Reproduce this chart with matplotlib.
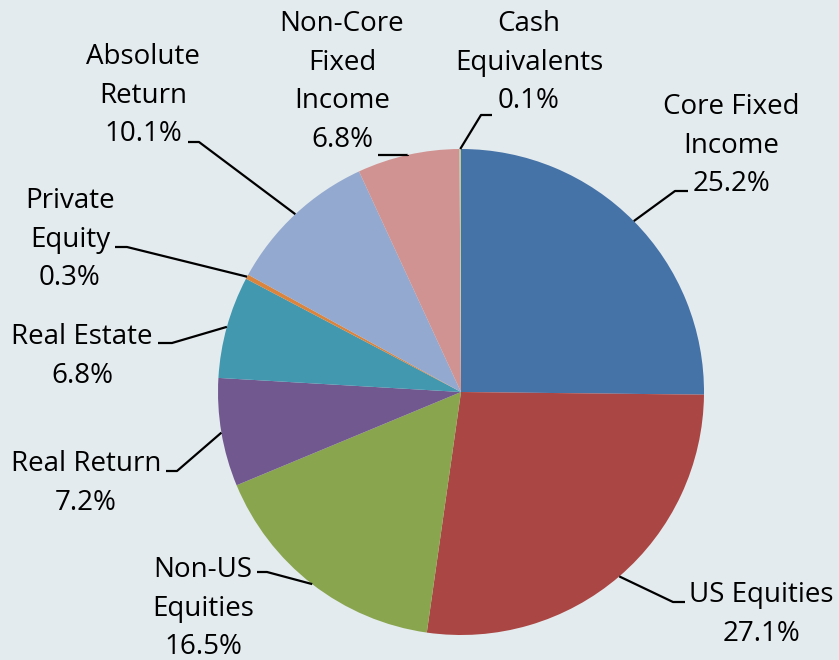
import matplotlib
matplotlib.use("Agg")
import matplotlib.pyplot as plt
import numpy as np

# slice data, clockwise from 12 o'clock
names = ["Core Fixed\nIncome", "US Equities", "Non-US\nEquities", "Real Return",
         "Real Estate", "Private\nEquity", "Absolute\nReturn",
         "Non-Core\nFixed\nIncome", "Cash\nEquivalents"]
values = [25.2, 27.1, 16.5, 7.2, 6.8, 0.3, 10.1, 6.8, 0.1]
colors = ["#4572a7", "#aa4643", "#89a54e", "#71588f", "#4198af",
          "#db843d", "#93a9cf", "#d19392", "#b9cd96"]

# layout in pixel coords (x right, y down): text centre x, first baseline y,
# leader bend point and end of the horizontal tick
text_pos = [(731, 114), (761, 602), (203, 577), (86, 471), (82, 344),
            (70, 208), (143, 64), (342, 31), (529, 31)]
bends = [(675, 191), (673, 602), (267, 572), (177, 471), (172, 343),
         (127, 247), (199, 142), (408, 155), (481, 115)]
ends = [(688, 191), (685, 602), (257, 572), (166, 471), (158, 343),
        (115, 247), (188, 142), (378, 155), (492, 115)]

W, H = 839, 660
BG = "#e4ebee"
CX, CY, R = 461, 392, 243
LINE = 38.7


def px(x, y):
    return x, H - y


fig = plt.figure(figsize=(W / 100, H / 100), dpi=100, facecolor=BG)
ax = fig.add_axes([0, 0, 1, 1])
ax.set_facecolor(BG)

wedges, _ = ax.pie(values, colors=colors, startangle=90, counterclock=False,
                   center=px(CX, CY), radius=R, frame=True,
                   wedgeprops=dict(linewidth=0))
ax.set_xlim(0, W)
ax.set_ylim(0, H)
ax.set_aspect("equal")
ax.axis("off")

for i, w in enumerate(wedges):
    mid = np.deg2rad((w.theta1 + w.theta2) / 2)
    sx = CX + R * np.cos(mid)
    sy = CY - R * np.sin(mid)
    bx, by = bends[i]
    ex, ey = ends[i]
    ax.plot([sx, bx, ex], [H - sy, H - by, H - ey], color="black", lw=1.6,
            solid_capstyle="butt")

    lines = names[i].split("\n") + [f"{values[i]}%"]
    tx, ty = text_pos[i]
    for k, line in enumerate(lines):
        ax.text(tx, H - (ty + k * LINE), line, ha="center", va="baseline",
                fontsize=20, family=["Open Sans", "DejaVu Sans"], color="black")

fig.savefig("out.png", dpi=100, facecolor=BG)
